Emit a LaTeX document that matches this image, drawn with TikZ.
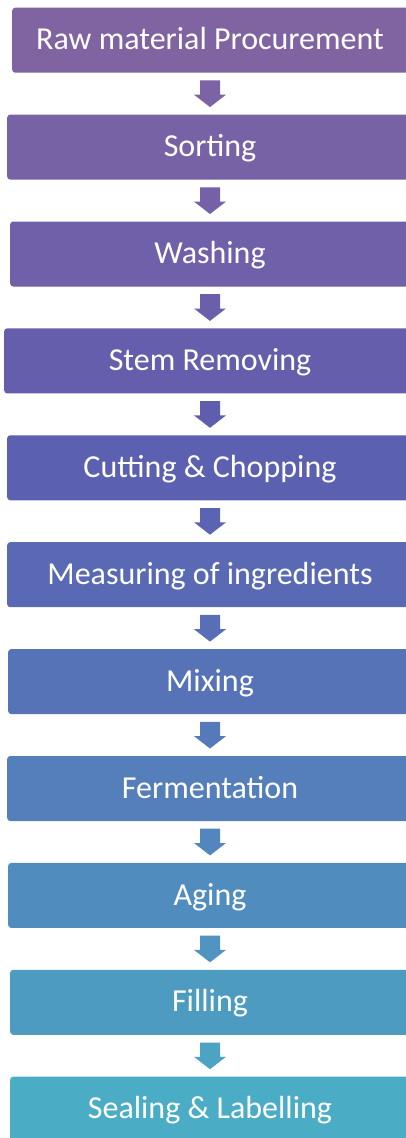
\documentclass[tikz,border=0pt]{standalone}
\usepackage{fontspec}
\setmainfont{Carlito}
\usetikzlibrary{calc}
\begin{document}
\begin{tikzpicture}[x=1pt,y=-1pt,
  stepbox/.style={rounded corners=3pt, inner sep=0pt, anchor=north west, minimum height=65pt},
  steplabel/.style={text=white, font=\fontsize{32}{38}\selectfont, anchor=base, inner sep=0pt}]
\useasboundingbox (0,0) rectangle (406,1138);
\clip (0,0) rectangle (406,1138);
\foreach \i/\l/\t in {0/12/Raw material Procurement, 1/7/Sorting, 2/10/Washing, 3/4/Stem Removing, 4/7/Cutting \& Chopping, 5/7/Measuring of ingredients, 6/8/Mixing, 7/7/Fermentation, 8/8/Aging, 9/10/Filling, 10/10/Sealing \& Labelling} {
  \pgfmathsetmacro\hh{(267.1-7.44*\i)/360}
  \pgfmathsetmacro\ss{0.383+0.0238*\i}
  \pgfmathsetmacro\vv{0.635+0.0141*\i}
  \definecolor{tmpc}{hsb}{\hh,\ss,\vv}
  \colorlet{bc}[rgb]{tmpc}
  \pgfmathsetmacro\tp{7.5+106.9*\i}
  \pgfmathsetmacro\w{430-\l}
  \node[stepbox, fill=bc, minimum width=\w pt] (b\i) at (\l,\tp) {};
  \node[steplabel] (t\i) at (210,\tp+32.5+9.8) {\t};
}
\foreach \i in {0,...,9} {
  \pgfmathsetmacro\hh{(267.1-7.44*(\i+0.5))/360}
  \pgfmathsetmacro\ss{0.383+0.0238*(\i+0.5)}
  \pgfmathsetmacro\vv{0.635+0.0141*(\i+0.5)}
  \definecolor{tmpc}{hsb}{\hh,\ss,\vv}
  \colorlet{ac}[rgb]{tmpc}
  \coordinate (a\i) at ($(b\i.south -| t\i)+(0,7.5)$);
  \fill[ac] (a\i) ++(-10,0) -- ++(20,0) -- ++(0,14.3) -- ++(6,0) -- ++(-16,12.4) -- ++(-16,-12.4) -- ++(6,0) -- cycle;
}
\end{tikzpicture}
\end{document}
